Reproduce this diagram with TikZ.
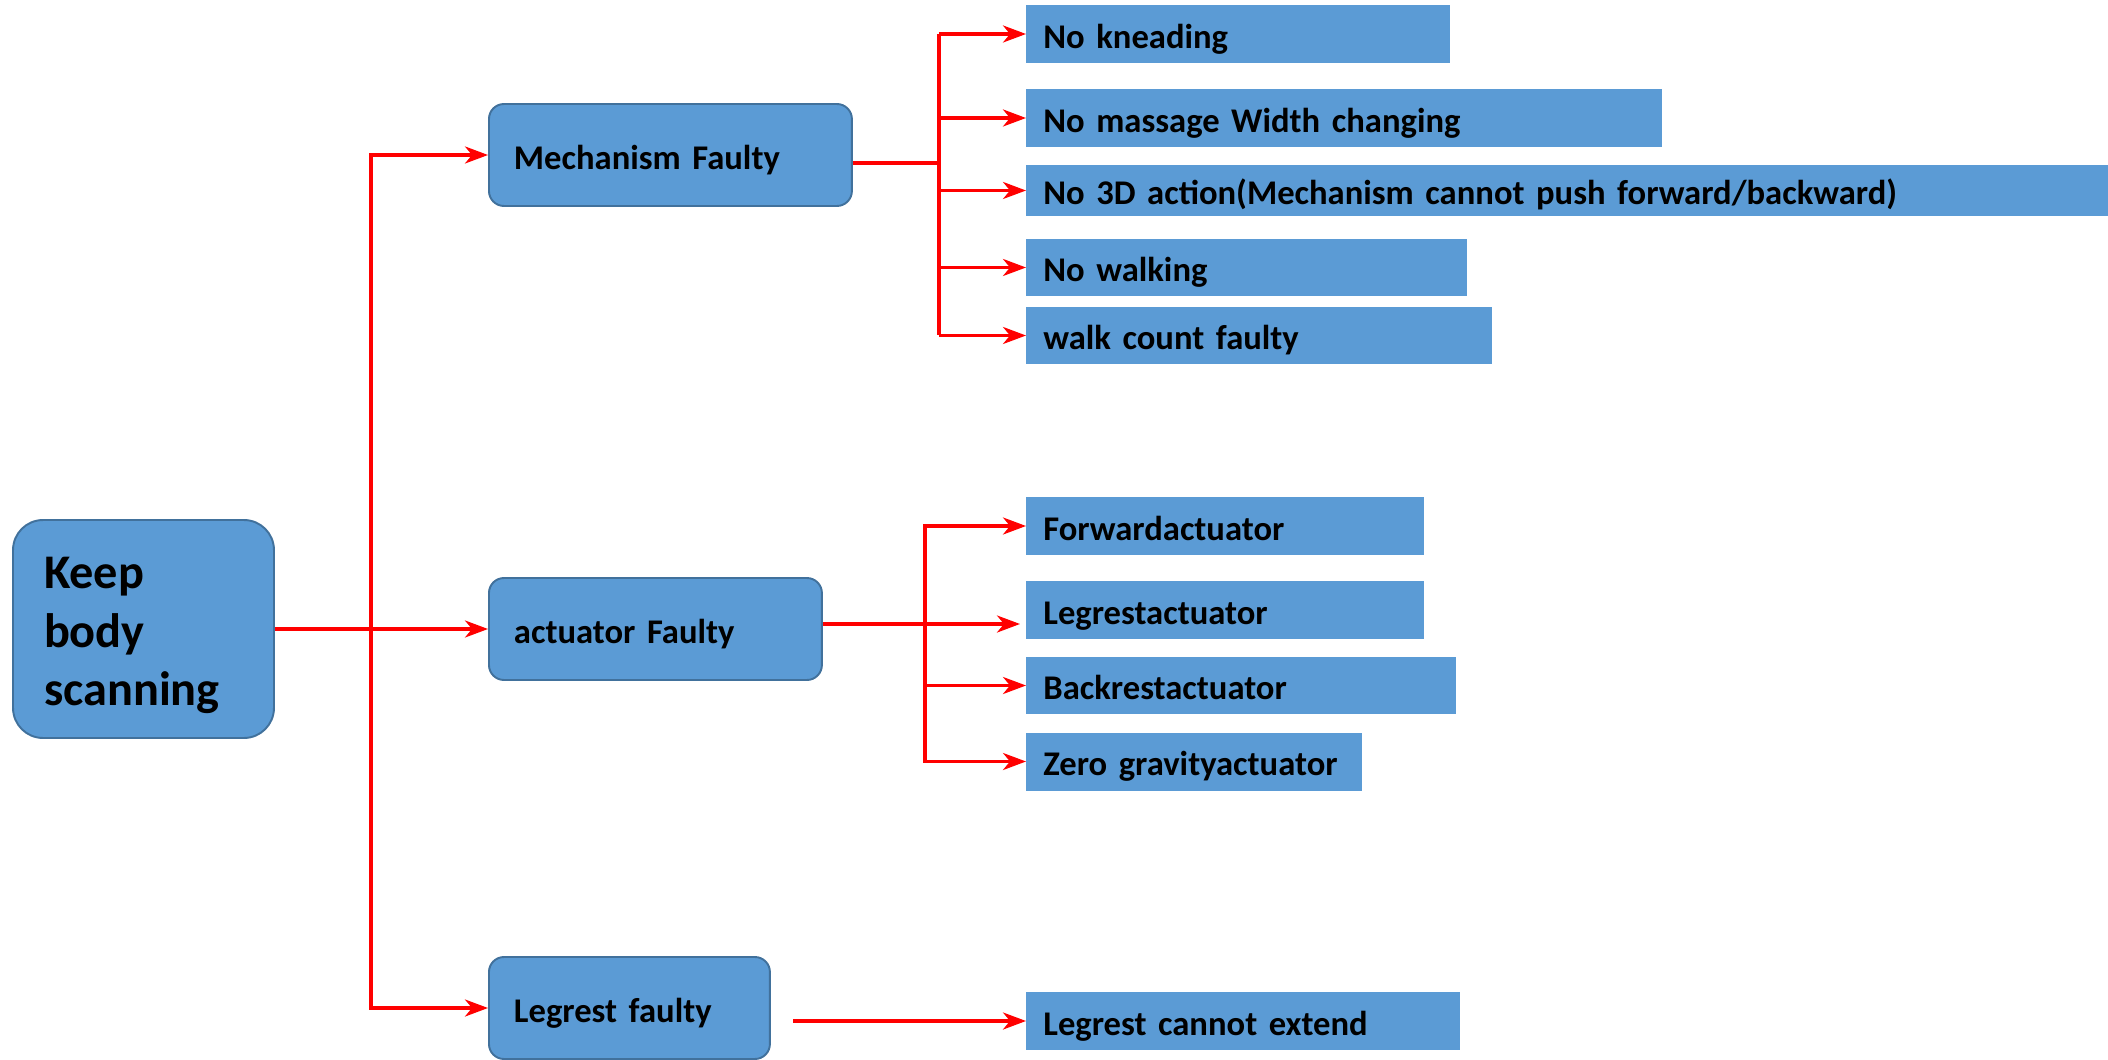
\documentclass[tikz,border=0pt]{standalone}
\usepackage{fontspec}
\setmainfont{Carlito}
\usetikzlibrary{arrows.meta}
\definecolor{scanBlue}{HTML}{5B9BD5}
\definecolor{scanEdge}{HTML}{41719C}
\definecolor{scanRed}{HTML}{FF0000}

\begin{document}
\begin{tikzpicture}[x=0.02cm, y=-0.02cm]
\tikzset{rootbox/.style={rectangle, rounded corners=0.6cm, draw=scanEdge, line width=1.1pt, fill=scanBlue,
  minimum width=5.22cm, minimum height=4.36cm, inner xsep=0.62cm, text width=3.98cm, align=left,
  text depth=63.5pt, font=\fontsize{27.5}{33.2}\selectfont\bfseries},
 faultbox/.style={rectangle, rounded corners=0.3cm, draw=scanEdge, line width=1.1pt, fill=scanBlue,
  minimum height=2.04cm, inner xsep=0.5cm, align=left, anchor=west, text height=18pt, text depth=2pt,
  font=\fontsize{19.7}{23}\selectfont\bfseries},
 leafbox/.style={rectangle, fill=scanBlue, minimum height=1.16cm, inner xsep=0.34cm, inner ysep=0pt,
  align=left, anchor=west, text height=18pt, text depth=2pt, font=\fontsize{19.7}{23}\selectfont\bfseries},
 wire/.style={-{Stealth[length=0.46cm, width=0.34cm, inset=0.14cm]}, draw=scanRed, line width=1.85pt},
 wireplain/.style={draw=scanRed, line width=1.85pt}}
\useasboundingbox (0,0) rectangle (2108,1060);

% root and the three fault groups
\node[rootbox] (root) at (143.5,629) {Keep\\body\\scanning};
\node[faultbox, text width=6.26cm] (mech) at (488,155) {Mechanism Faulty};
\node[faultbox, text width=5.66cm] (act) at (488,629) {actuator Faulty};
\node[faultbox, text width=4.62cm] (leg) at (488,1008) {Legrest faulty};

% mechanism faults
\node[leafbox, text width=7.80cm] (k1) at (1026,34) {No kneading};
\node[leafbox, text width=12.04cm] (k2) at (1026,118) {No massage Width changing};
\node[leafbox, text width=20.96cm, minimum height=1.02cm] (k3) at (1026,190.5) {No 3D action(Mechanism cannot push forward/backward)};
\node[leafbox, text width=8.14cm] (k4) at (1026,267.5) {No walking};
\node[leafbox, text width=8.64cm] (k5) at (1026,335.5) {walk count faulty};

% actuator faults
\node[leafbox, text width=7.28cm] (a1) at (1026,526) {Forwardactuator};
\node[leafbox, text width=7.28cm] (a2) at (1026,610) {Legrestactuator};
\node[leafbox, text width=7.92cm] (a3) at (1026,685.5) {Backrestactuator};
\node[leafbox, text width=6.04cm] (a4) at (1026,761.5) {Zero gravityactuator};

% legrest fault
\node[leafbox, text width=8.00cm] (lc) at (1026,1021) {Legrest cannot extend};

% trunk
\coordinate (split) at (371,629);
\draw[wire] (root.east) -- (act.west);
\draw[wire] (split) |- (mech.west);
\draw[wire] (split) |- (leg.west);

% mechanism branch
\draw[wireplain] ([yshift=-0.16cm]mech.east) -- ++(86,0) coordinate (mj);
\draw[wireplain] (mj |- k1.west) -- (mj |- k5.west);
\draw[wire] (mj |- k1.west) -- (k1.west);
\draw[wire] (mj |- k2.west) -- (k2.west);
\draw[wire] (mj |- k3.west) -- (k3.west);
\draw[wire] (mj |- k4.west) -- (k4.west);
\draw[wire] (mj |- k5.west) -- (k5.west);

% actuator branch
\draw[wireplain] ([yshift=0.1cm]act.east) -- ++(102,0) coordinate (aj);
\draw[wire] (aj) |- (a1.west);
\draw[wire, shorten >=0.12cm] (aj) -- (a2.west |- aj);
\draw[wire] (aj) |- (a3.west);
\draw[wire] (aj) |- (a4.west);

% legrest branch
\coordinate (lgo) at (793,1021);
\draw[wire] (lgo) -- (lc.west);
\end{tikzpicture}
\end{document}
